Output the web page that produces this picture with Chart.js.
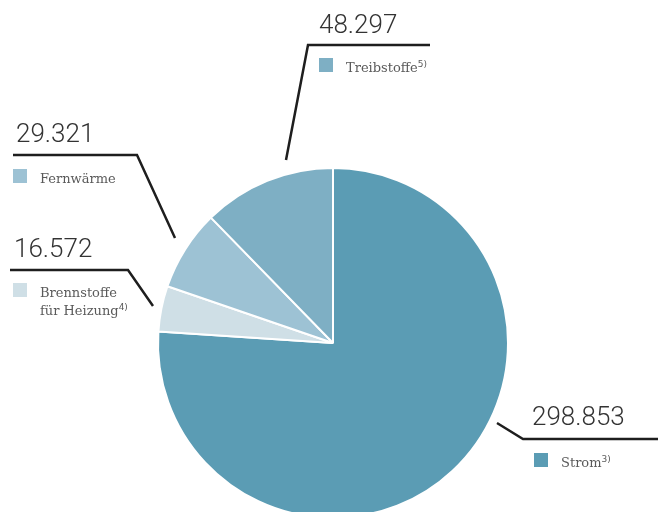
<!DOCTYPE html>
<html>
<head>
<meta charset="utf-8">
<script src="https://cdn.jsdelivr.net/npm/chart.js@4/dist/chart.umd.min.js"></script>
<style>
  html, body { margin: 0; padding: 0; background: #fff; overflow: hidden; }
  #wrap { width: 666px; height: 530px; }
</style>
</head>
<body>
<div id="wrap"><canvas id="chart" width="666" height="530"></canvas></div>
<script>
// data
const categories = ['Strom', 'Brennstoffe für Heizung', 'Fernwärme', 'Treibstoffe'];
const values = [298.853, 16.572, 29.321, 48.297];
const valueLabels = ['298.853', '16.572', '29.321', '48.297'];
const notes = ['3)', '4)', '', '5)'];
const colors = ['#5b9cb4', '#cfdfe6', '#9dc2d4', '#7eafc4'];

// label layout: leader line points, number pos, legend box pos, text lines
const layout = [
  { line: [[497, 423], [523, 439], [658, 439]], num: [532, 425], box: [534, 453], text: ['Strom'] },
  { line: [[153, 306], [128, 270], [10, 270]], num: [14, 257], box: [13, 283], text: ['Brennstoffe', 'für Heizung'] },
  { line: [[175, 238], [137, 155], [13, 155]], num: [16, 142], box: [13, 169], text: ['Fernwärme'] },
  { line: [[286, 160], [308, 45], [430, 45]], num: [319, 33], box: [319, 58], text: ['Treibstoffe'] }
];

const labelPlugin = {
  id: 'labels',
  afterDraw(chart) {
    const ctx = chart.ctx;
    ctx.save();
    layout.forEach((l, i) => {
      // leader line
      ctx.beginPath();
      ctx.moveTo(l.line[0][0], l.line[0][1]);
      for (let k = 1; k < l.line.length; k++) ctx.lineTo(l.line[k][0], l.line[k][1]);
      ctx.strokeStyle = '#1e1e1e';
      ctx.lineWidth = 2.5;
      ctx.stroke();

      // number
      ctx.fillStyle = '#333';
      ctx.font = '300 26px Roboto';
      ctx.textBaseline = 'alphabetic';
      ctx.textAlign = 'left';
      ctx.fillText(valueLabels[i], l.num[0], l.num[1]);

      // legend box
      ctx.fillStyle = colors[i];
      ctx.fillRect(l.box[0], l.box[1], 14, 14);

      // text
      ctx.fillStyle = '#5a5a5a';
      let x = l.box[0] + 27, y = l.box[1] + 14;
      l.text.forEach((t, k) => {
        ctx.font = '13px "DejaVu Serif"';
        ctx.fillText(t, x, y + k * 18);
        if (k === l.text.length - 1 && notes[i]) {
          const w = ctx.measureText(t).width;
          ctx.font = '9px "DejaVu Sans"';
          ctx.fillText(notes[i], x + w, y + k * 18 - 5);
        }
      });
    });
    ctx.restore();
  }
};

new Chart(document.querySelector('#chart').getContext('2d'), {
  type: 'pie',
  data: {
    labels: categories,
    datasets: [{
      data: values,
      backgroundColor: colors,
      borderColor: '#fff',
      borderWidth: 2
    }]
  },
  options: {
    responsive: false,
    animation: false,
    layout: { padding: { top: 167, bottom: 11, left: 0, right: 0 } },
    plugins: {
      legend: { display: false },
      tooltip: { enabled: false }
    }
  },
  plugins: [labelPlugin]
});
</script>
</body>
</html>
